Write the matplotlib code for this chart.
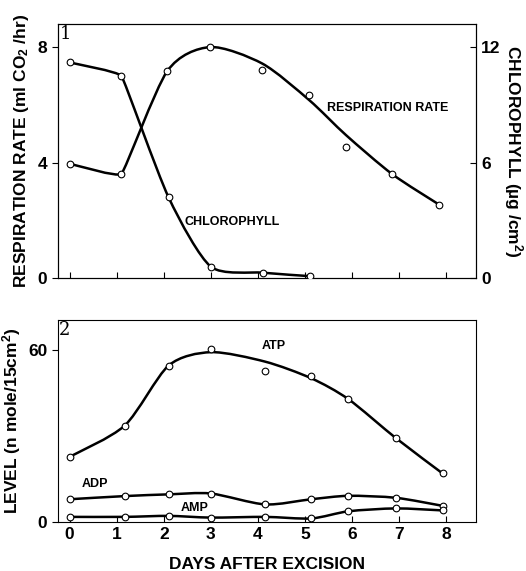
import matplotlib
matplotlib.use('Agg')
import matplotlib.pyplot as plt
from matplotlib.path import Path
from matplotlib.patches import PathPatch
import numpy as np

plt.rcParams['font.family'] = ['Liberation Sans', 'DejaVu Sans']
plt.rcParams['mathtext.default'] = 'regular'

# panel 1: respiration (left axis) and chlorophyll (right axis)
resp_days = [0, 1.1, 2.07, 2.98, 4.09, 5.09, 5.87, 6.85, 7.85]
resp_pts = [3.96, 3.61, 7.16, 8.0, 7.2, 6.33, 4.54, 3.6, 2.54]
resp_line = [3.96, 3.61, 7.16, 8.0, 7.43, 6.16, 4.95, 3.6, 2.54]
chl_days = [0, 1.1, 2.1, 3.0, 4.1, 5.1]
chl_pts = [11.2, 10.5, 4.2, 0.59, 0.28, 0.1]

# panel 2: nucleotide levels
nuc_days = [0, 1.17, 2.1, 3.0, 4.15, 5.13, 5.92, 6.93, 7.92]
atp_pts = [22.7, 33.6, 54.5, 60.4, 52.7, 51.0, 42.8, 29.2, 16.9]
atp_line = [22.7, 33.6, 54.5, 59.2, 55.9, 50.1, 42.8, 29.2, 16.9]
adp_pts = [7.9, 9.0, 9.6, 9.9, 6.1, 7.9, 9.1, 8.4, 5.6]
amp_pts = [1.75, 1.75, 2.1, 1.5, 1.75, 1.2, 3.7, 4.7, 4.0]

day_ticks = [0, 1, 2, 3, 4, 5, 6, 7, 8]


def curve(ax, x, y, s=1.0, lw=1.8):
    # cardinal spline through the knots (tension per knot), as a bezier path
    pts = np.column_stack([x, y]).astype(float)
    n = len(pts)
    s = np.broadcast_to(np.asarray(s, float), (n,))
    p = np.vstack([pts[0], pts, pts[-1]])
    verts = [tuple(pts[0])]
    codes = [Path.MOVETO]
    for i in range(1, len(p) - 2):
        c1 = p[i] + s[i - 1] * (p[i + 1] - p[i - 1]) / 6.0
        c2 = p[i + 1] - s[i] * (p[i + 2] - p[i]) / 6.0
        verts += [tuple(c1), tuple(c2), tuple(p[i + 1])]
        codes += [Path.CURVE4] * 3
    ax.add_patch(PathPatch(Path(verts, codes), fill=False, lw=lw,
                           edgecolor='black', capstyle='round',
                           joinstyle='round'))


def dots(ax, x, y):
    ax.plot(x, y, 'o', ms=4.8, mfc='white', mec='black', mew=0.8, zorder=5)


fig = plt.figure(figsize=(5.26, 5.71), dpi=100)
ax1 = fig.add_axes([0.110, 0.513, 0.795, 0.445])
ax1r = ax1.twinx()
ax2 = fig.add_axes([0.110, 0.086, 0.795, 0.354])

curve(ax1, resp_days, resp_line, s=[0.7, 0.25, 0.8, 0.8, 0.8, 0.8, 0.8, 0.8, 0.8])
dots(ax1, resp_days, resp_pts)
curve(ax1r, chl_days, chl_pts, s=[0.5, 0.2, 0.8, 0.7, 0.7, 0.7])
dots(ax1r, chl_days, chl_pts)
ax1.set_xlim(-0.25, 8.63)
ax1.set_ylim(0, 8.8)
ax1r.set_ylim(0, 13.2)
ax1.set_yticks([0, 4, 8])
ax1r.set_yticks([0, 6, 12])
ax1.set_xticks(day_ticks)
ax1.set_xticklabels([])
ax1.set_ylabel('RESPIRATION RATE (ml CO$_2$ /hr)', fontsize=12.5,
               fontweight='bold', labelpad=5)
ax1r.set_ylabel('CHLOROPHYLL (µg /cm$^2$)', fontsize=12.5,
                fontweight='bold', rotation=-90, labelpad=18)
ax1.text(6.75, 5.9, 'RESPIRATION RATE', fontsize=9, fontweight='bold',
         ha='center', va='center')
ax1.text(3.44, 1.95, 'CHLOROPHYLL', fontsize=9, fontweight='bold',
         ha='center', va='center')
ax1.text(-0.22, 8.75, '1', family='DejaVu Serif', fontsize=13,
         ha='left', va='top')

curve(ax2, nuc_days, atp_line, s=0.8)
dots(ax2, nuc_days, atp_pts)
curve(ax2, nuc_days, adp_pts, s=0.8)
dots(ax2, nuc_days, adp_pts)
curve(ax2, nuc_days, amp_pts, s=0.8)
dots(ax2, nuc_days, amp_pts)
ax2.set_xlim(-0.25, 8.63)
ax2.set_ylim(0, 70.5)
ax2.set_yticks([0, 60])
ax2.set_xticks(day_ticks)
ax2.set_ylabel('LEVEL (n mole/15cm$^2$)', fontsize=12.5,
               fontweight='bold', labelpad=4)
ax2.set_xlabel('DAYS AFTER EXCISION', fontsize=12.5, fontweight='bold',
               labelpad=11)
ax2.text(4.33, 61.5, 'ATP', fontsize=9, fontweight='bold',
         ha='center', va='center')
ax2.text(0.54, 13.2, 'ADP', fontsize=9, fontweight='bold',
         ha='center', va='center')
ax2.text(2.65, 4.8, 'AMP', fontsize=9, fontweight='bold',
         ha='center', va='center')
ax2.text(-0.22, 70.0, '2', family='DejaVu Serif', fontsize=13,
         ha='left', va='top')

for a in (ax1, ax1r, ax2):
    for sp in a.spines.values():
        sp.set_linewidth(0.8)
    a.tick_params(labelsize=12.5, width=0.8, length=4, direction='in')
    for lab in a.get_xticklabels() + a.get_yticklabels():
        lab.set_fontweight('bold')
ax1.tick_params(axis='y', direction='out')
ax2.tick_params(axis='y', direction='out')

fig.savefig('out.png', dpi=100)
